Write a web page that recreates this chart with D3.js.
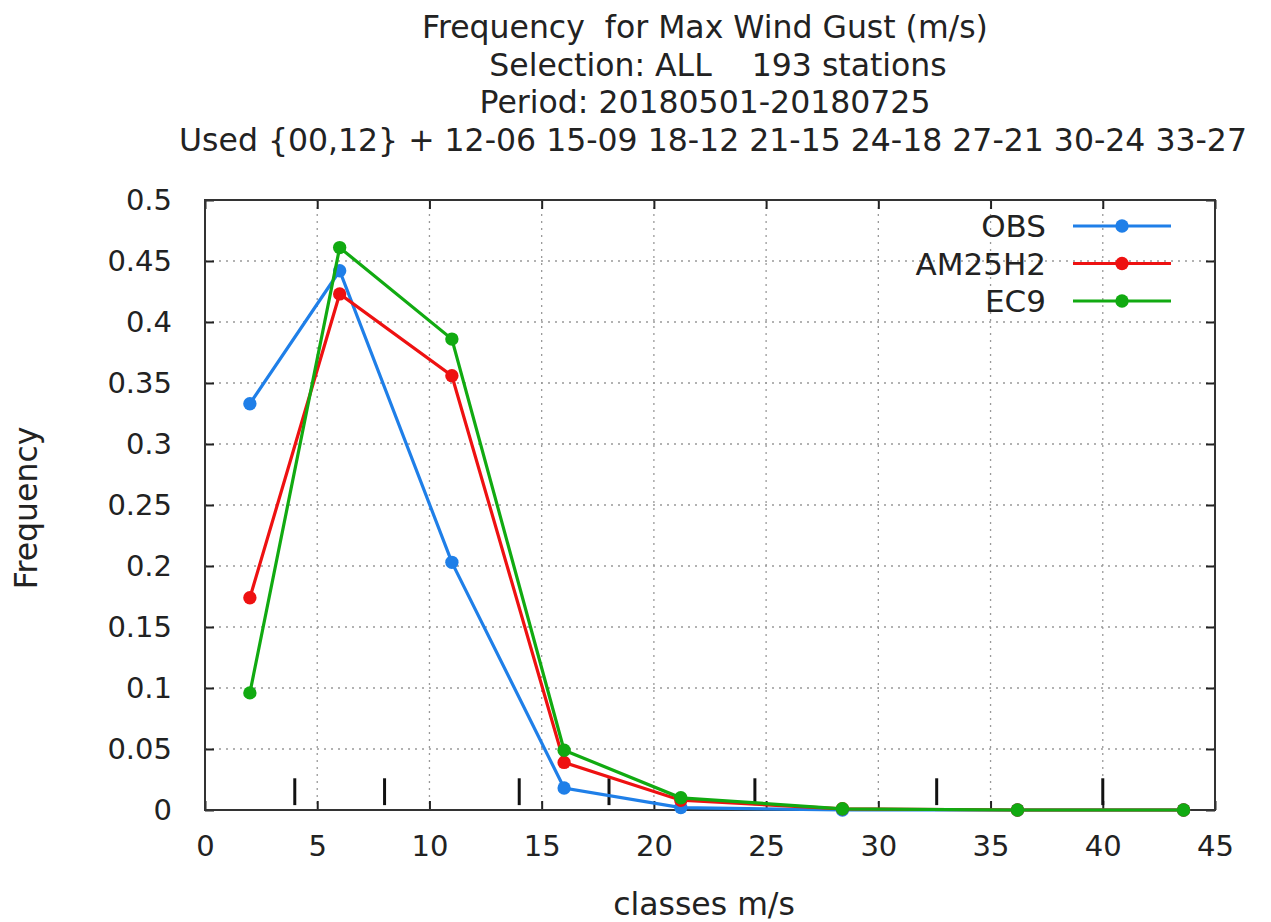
<!DOCTYPE html>
<html><head><meta charset="utf-8">
<script src="https://cdn.jsdelivr.net/npm/d3@7"></script>
<style>
body{margin:0;background:#fff;}
text{font-family:"DejaVu Sans",sans-serif;fill:#222;white-space:pre;}
</style></head>
<body><svg id="c" width="1271" height="922"></svg>
<script>
const titleLines = ["Frequency  for Max Wind Gust (m/s)", "Selection: ALL    193 stations", "Period: 20180501-20180725", "Used {00,12} + 12-06 15-09 18-12 21-15 24-18 27-21 30-24 33-27"];
const classes = [2, 6, 11, 16, 21.2, 28.4, 36.2, 43.6];
const obs    = [0.333, 0.442, 0.203, 0.018, 0.002, 0.0, 0.0, 0.0];
const am25h2 = [0.174, 0.423, 0.356, 0.039, 0.008, 0.001, 0.0, 0.0];
const ec9    = [0.096, 0.461, 0.386, 0.049, 0.010, 0.001, 0.0, 0.0];
const seriesNames = ["OBS", "AM25H2", "EC9"];
const seriesColors = ["#1f7fe8", "#ee1111", "#11aa11"];
const binEdges = [4, 8, 14, 18, 24.5, 32.6, 40];
const xTicks = [0,5,10,15,20,25,30,35,40,45];
const yTicks = [0,0.05,0.1,0.15,0.2,0.25,0.3,0.35,0.4,0.45,0.5];

const svg = d3.select("#c");
const L=205, R=1215, T=200, B=810;
const x = d3.scaleLinear().domain([0,45]).range([L,R]);
const y = d3.scaleLinear().domain([0,0.5]).range([B,T]);
const titleX = [705, 718, 705, 713];

// titles
svg.selectAll("text.title").data(titleLines).join("text")
  .attr("class","title").attr("x",(d,i)=>titleX[i]).attr("y",(d,i)=>38+i*37.5)
  .attr("xml:space","preserve")
  .attr("text-anchor","middle").style("font-size","31.5px").text(d=>d);

// grid
const grid = svg.append("g").attr("stroke","#999").attr("stroke-width",1.3).attr("stroke-dasharray","2,5");
grid.selectAll("line.gx").data(xTicks.slice(1,-1)).join("line")
  .attr("x1",d=>x(d)).attr("x2",d=>x(d)).attr("y1",T).attr("y2",B);
grid.selectAll("line.gy").data(yTicks.slice(1,-1)).join("line")
  .attr("class","gy").attr("y1",d=>y(d)).attr("y2",d=>y(d)).attr("x1",L).attr("x2",R);

// axes
const fmt = d=> d===0?"0":String(+d.toFixed(2));
const xa = svg.append("g").attr("transform",`translate(0,${B})`)
  .call(d3.axisBottom(x).tickValues(xTicks).tickSize(-9).tickPadding(25).tickFormat(fmt));
const xa2 = svg.append("g").attr("transform",`translate(0,${T})`)
  .call(d3.axisTop(x).tickValues(xTicks).tickSize(-9).tickFormat(""));
const ya = svg.append("g").attr("transform",`translate(${L},0)`)
  .call(d3.axisLeft(y).tickValues(yTicks).tickSize(-9).tickPadding(33).tickFormat(fmt));
const ya2 = svg.append("g").attr("transform",`translate(${R},0)`)
  .call(d3.axisRight(y).tickValues(yTicks).tickSize(-9).tickFormat(""));
[xa,xa2,ya,ya2].forEach(g=>{
  g.select(".domain").remove();
  g.selectAll(".tick line").attr("stroke","#222").attr("stroke-width",2);
  g.selectAll(".tick text").style("font-size","29px").attr("fill","#222").style("font-family","DejaVu Sans, sans-serif");
});
svg.append("rect").attr("x",L).attr("y",T).attr("width",R-L).attr("height",B-T)
  .attr("fill","none").attr("stroke","#333").attr("stroke-width",2);

// bin edge marks
svg.append("g").selectAll("line").data(binEdges).join("line")
  .attr("x1",d=>x(d)).attr("x2",d=>x(d)).attr("y1",y(0.026)).attr("y2",y(0.004))
  .attr("stroke","#111").attr("stroke-width",3);

// axis labels
svg.append("text").attr("x",704).attr("y",915).attr("text-anchor","middle").style("font-size","31.5px").text("classes m/s");
svg.append("text").attr("transform","translate(37,508) rotate(-90)").attr("text-anchor","middle").style("font-size","31.5px").text("Frequency");

// series
const data = [obs, am25h2, ec9];
const line = d3.line().x((d,i)=>x(classes[i])).y(d=>y(d));
const hex = d3.symbol().type(d3.symbolCircle).size(140);
data.forEach((vals,k)=>{
  const g = svg.append("g");
  g.append("path").datum(vals).attr("d",line).attr("fill","none")
    .attr("stroke",seriesColors[k]).attr("stroke-width",3.2);
  g.selectAll("path.m").data(vals).join("path").attr("class","m")
    .attr("transform",(d,i)=>`translate(${x(classes[i])},${y(d)})`)
    .attr("d",hex).attr("fill",seriesColors[k]);
});

// legend
const leg = svg.append("g");
seriesNames.forEach((n,k)=>{
  const yy = 226 + k*37.5;
  leg.append("text").attr("x",1046).attr("y",yy+11).attr("text-anchor","end").style("font-size","31px").text(n);
  leg.append("line").attr("x1",1073).attr("x2",1171).attr("y1",yy).attr("y2",yy)
    .attr("stroke",seriesColors[k]).attr("stroke-width",3.2);
  leg.append("path").attr("transform",`translate(1122,${yy})`).attr("d",hex).attr("fill",seriesColors[k]);
});
</script></body></html>
